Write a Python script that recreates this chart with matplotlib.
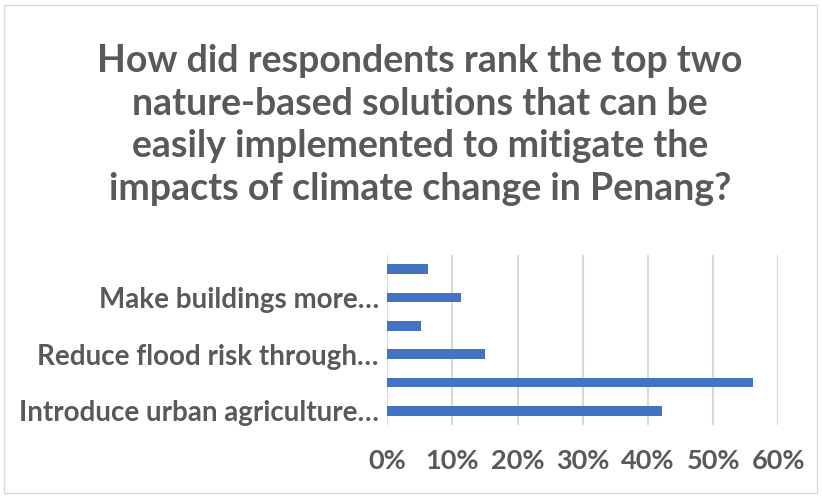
import matplotlib
matplotlib.use("Agg")
import matplotlib.pyplot as plt
from matplotlib.patches import Rectangle
from matplotlib.ticker import PercentFormatter

categories = [
    "Introduce urban agriculture…",
    "",
    "Reduce flood risk through…",
    "",
    "Make buildings more…",
    "",
]
values = [42.1, 56.1, 15.0, 5.1, 11.3, 6.3]
xticks = [0, 10, 20, 30, 40, 50, 60]
title = ("How did respondents rank the top two\nnature-based solutions that can be\n"
         "easily implemented to mitigate the\nimpacts of climate change in Penang?")

plt.rcParams['font.family'] = ['Lato', 'DejaVu Sans']
TXT = "#595959"
BAR = "#4472C4"

fig = plt.figure(figsize=(8.22, 4.98), dpi=100)
W, H = 822, 498
ax = fig.add_axes([387.3 / W, 1 - 425 / H, (778.3 - 387.3) / W, (425 - 255) / H])

y = list(range(len(values)))
ax.barh(y, values, height=0.33, color=BAR, zorder=3)
ax.set_xlim(0, 60)
ax.set_ylim(-0.5, len(values) - 0.5)
ax.set_xticks(xticks)
ax.xaxis.set_major_formatter(PercentFormatter(decimals=0))
ax.set_yticks(y)
ax.set_yticklabels(categories)
ax.grid(axis='x', color="#D9D9D9", linewidth=1.5, zorder=0)
for s in ax.spines.values():
    s.set_visible(False)
ax.tick_params(axis='both', length=0, colors=TXT, labelsize=19.5)
ax.tick_params(axis='y', labelsize=20)
ax.tick_params(axis='x', pad=17)
ax.tick_params(axis='y', pad=6)
for lab in ax.get_xticklabels() + ax.get_yticklabels():
    lab.set_fontweight('bold')
    lab.set_color(TXT)

fig.text(420 / W, 1 - 125 / H, title, ha='center', va='center', fontsize=27,
         fontweight='bold', color=TXT, linespacing=1.31)

fig.patches.append(Rectangle((4 / W, 5 / H), 813 / W, 488 / H, transform=fig.transFigure,
                             fill=False, edgecolor="#D9D9D9", linewidth=1))

fig.savefig("out.png", dpi=100)
